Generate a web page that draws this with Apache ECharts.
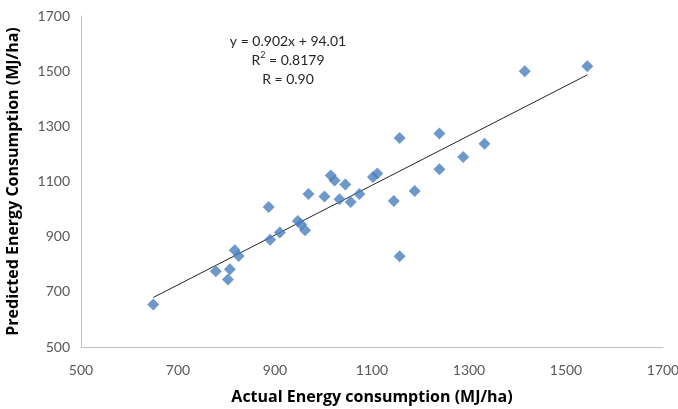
<!DOCTYPE html>
<html>
<head>
<meta charset="utf-8">
<script src="https://cdn.jsdelivr.net/npm/echarts@6/dist/echarts.min.js"></script>
<style>html,body{margin:0;padding:0;background:#fff}#c{width:678px;height:409px}</style>
</head>
<body>
<div id="c"></div>
<script>
// Data
const actual = [649, 778, 803, 807, 817, 825, 887, 890, 910, 947, 954, 962, 969, 1002, 1015, 1023, 1045, 1033, 1056, 1074, 1102, 1111, 1145, 1188, 1157, 1239, 1332, 1288, 1239, 1157, 1415, 1544];
const predicted = [654, 775, 745, 782, 851, 830, 1008, 889, 915, 957, 944, 923, 1055, 1046, 1122, 1104, 1089, 1036, 1026, 1055, 1116, 1129, 1029, 1066, 1258, 1274, 1237, 1189, 1144, 829, 1500, 1518];
const slope = 0.902;
const intercept = 94.01;
const trendX = [649, 1544];
const xTicks = [500, 700, 900, 1100, 1300, 1500, 1700];
const yTicks = [500, 700, 900, 1100, 1300, 1500, 1700];
const xTitle = 'Actual Energy consumption (MJ/ha)';
const yTitle = 'Predicted Energy Consumption (MJ/ha)';

const points = actual.map((x, i) => [x, predicted[i]]);
const trend = trendX.map(x => [x, slope * x + intercept]);

const font = 'Lato, "Open Sans", sans-serif';
const titleFont = '"Open Sans", sans-serif';
const chart = echarts.init(document.getElementById('c'), null, {renderer: 'canvas'});
chart.setOption({
  animation: false,
  backgroundColor: '#fff',
  grid: {left: 81, right: 15, top: 16, bottom: 62, containLabel: false, outerBoundsMode: 'none'},
  xAxis: {
    type: 'value', min: xTicks[0], max: xTicks[xTicks.length - 1], interval: 200,
    name: xTitle, nameLocation: 'middle', nameGap: 42,
    nameTextStyle: {fontFamily: titleFont, fontSize: 16, fontWeight: 'bold', color: '#000'},
    axisLine: {show: true, lineStyle: {color: '#bfbfbf', width: 1}},
    axisTick: {show: false},
    splitLine: {show: false},
    axisLabel: {fontFamily: font, fontSize: 14, color: '#595959', margin: 16, formatter: v => String(v)}
  },
  yAxis: {
    type: 'value', min: yTicks[0], max: yTicks[yTicks.length - 1], interval: 200,
    name: yTitle, nameLocation: 'middle', nameGap: 60, nameRotate: 90,
    nameTextStyle: {fontFamily: titleFont, fontSize: 16, fontWeight: 'bold', color: '#000'},
    axisLine: {show: true, lineStyle: {color: '#bfbfbf', width: 1}},
    axisTick: {show: false},
    splitLine: {show: false},
    axisLabel: {fontFamily: font, fontSize: 14, color: '#595959', margin: 11, formatter: v => String(v)}
  },
  series: [
    {
      type: 'line', data: trend, symbol: 'none', silent: true,
      lineStyle: {color: '#262626', width: 1}, z: 1
    },
    {
      type: 'scatter', data: points, symbol: 'diamond', symbolSize: 12,
      itemStyle: {color: '#4A7EBB'}, z: 2
    }
  ],
  graphic: [
    {
      type: 'text', x: 288, y: 32,
      style: {
        align: 'center', verticalAlign: 'top', lineHeight: 19,
        text: 'y = 0.902x + 94.01\n{n|R}{s|2}{n| = 0.8179}\nR = 0.90',
        font: '14px Lato, "Open Sans", sans-serif', fill: '#262626',
        rich: {
          n: {fontFamily: font, fontSize: 14, fill: '#262626', lineHeight: 19},
          s: {fontFamily: font, fontSize: 9, fill: '#262626', verticalAlign: 'top', lineHeight: 19, padding: [0, 0, 6, 0]}
        }
      }
    }
  ]
});
</script>
</body>
</html>
